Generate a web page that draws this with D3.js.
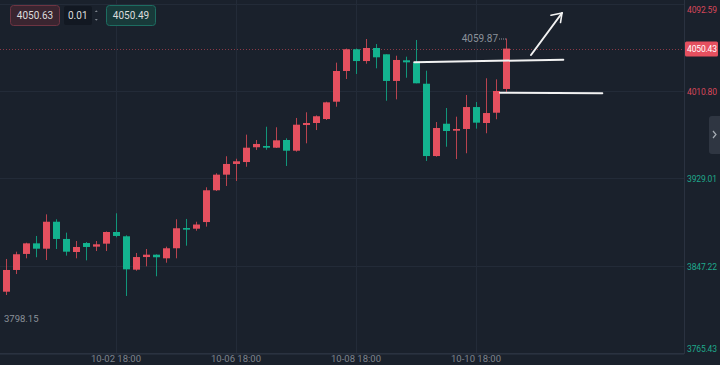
<!DOCTYPE html>
<html><head><meta charset="utf-8">
<script src="https://cdn.jsdelivr.net/npm/d3@7/dist/d3.min.js"></script>
<style>html,body{margin:0;padding:0;background:#1a212c;}svg{display:block;font-family:Roboto,"Noto Sans",sans-serif;}</style>
</head><body><svg id="c" width="720" height="365"></svg>
<script>
const categories = ["09-30 22:00","10-01 02:00","10-01 06:00","10-01 10:00","10-01 14:00","10-01 18:00","10-01 22:00",
"10-02 02:00","10-02 06:00","10-02 10:00","10-02 14:00","10-02 18:00","10-02 22:00",
"10-03 02:00","10-03 06:00","10-03 10:00","10-03 14:00","10-03 18:00","10-03 22:00",
"10-06 02:00","10-06 06:00","10-06 10:00","10-06 14:00","10-06 18:00","10-06 22:00",
"10-07 02:00","10-07 06:00","10-07 10:00","10-07 14:00","10-07 18:00","10-07 22:00",
"10-08 02:00","10-08 06:00","10-08 10:00","10-08 14:00","10-08 18:00","10-08 22:00",
"10-09 02:00","10-09 06:00","10-09 10:00","10-09 14:00","10-09 18:00","10-09 22:00",
"10-10 02:00","10-10 06:00","10-10 10:00","10-10 14:00","10-10 18:00","10-10 22:00",
"10-13 02:00","10-13 06:00"];
const opens = [3823.2,3843.5,3858.5,3868.4,3863.4,3888.6,3872.5,3860.3,3868.7,3865.3,3868.1,3879.0,3875.0,3843.8,3855.6,3857.8,3854.4,3863.8,3882.7,3882.1,3888.3,3918.0,3932.6,3942.6,3944.4,3958.2,3959.4,3957.8,3965.0,3955.0,3979.0,3980.9,3984.6,4000.8,4029.5,4049.8,4038.8,4051.0,4045.1,4020.2,4039.5,4037.6,4017.6,3950.0,3980.2,3973.7,3975.3,3995.8,3980.9,3990.5,4012.7];
const closes = [3843.5,3858.2,3868.4,3863.4,3888.6,3872.5,3860.6,3865.0,3865.0,3867.5,3879.0,3875.3,3844.1,3855.6,3857.8,3855.4,3863.8,3882.5,3881.2,3886.0,3918.0,3932.6,3942.6,3945.1,3957.8,3961.3,3957.8,3964.7,3955.0,3979.3,3980.9,3987.2,4000.2,4029.5,4049.8,4038.8,4051.0,4042.3,4020.2,4039.8,4037.6,4018.0,3950.0,3976.2,3973.4,3975.3,3995.8,3981.2,3990.2,4010.8,4050.43];
const highs = [3853.8,3860.6,3869.0,3875.3,3895.5,3890.9,3878.4,3870.6,3869.6,3870.6,3879.5,3896.5,3875.9,3859.4,3863.1,3858.1,3865.3,3890.9,3891.2,3888.6,3920.8,3933.9,3949.8,3947.5,3970.0,3965.0,3977.4,3976.9,3966.6,3985.6,3990.9,3988.0,4000.8,4037.3,4050.5,4050.5,4059.4,4054.7,4045.1,4043.8,4042.9,4058.5,4029.8,3981.8,3994.9,3986.8,4007.1,4000.5,4022.7,4021.7,4059.87];
const lows = [3820.1,3839.7,3854.4,3855.4,3852.8,3863.1,3856.9,3854.4,3852.5,3861.2,3861.2,3874.0,3819.2,3842.8,3846.9,3837.6,3850.3,3854.4,3866.2,3880.2,3884.0,3917.3,3922.0,3926.7,3940.0,3955.7,3955.9,3957.5,3940.7,3954.1,3961.9,3974.3,3983.7,3996.1,4022.0,4026.7,4036.3,4032.0,4001.7,4003.0,4023.2,4018.0,3945.4,3949.4,3958.7,3947.2,3952.6,3975.6,3971.3,3984.4,4009.9];
const priceTicks = [3765.43,3847.22,3929.01,4010.80,4092.59];
const timeTicks = ["10-02 18:00","10-06 18:00","10-08 18:00","10-10 18:00"];
const lastPrice = 4050.43, highLabel = 4059.87, lowLabel = 3798.15;
const bidAsk = ["4050.63","0.01","4050.49"];

const W=720,H=365, plotR=684, plotB=353;
const RED="#e5505f", GREEN="#13b38f";
const svg=d3.select("#c");
svg.append("rect").attr("width",W).attr("height",H).attr("fill","#1a212c");

const x=d3.scaleLinear().domain([0,categories.length-1]).range([6,506]);
const y=d3.scaleLinear().domain([3765.43,4092.59]).range([353.5,3.5]);

// grid
const g=svg.append("g");
g.selectAll("line.h").data(priceTicks).join("line")
 .attr("x1",0).attr("x2",plotR).attr("y1",d=>Math.round(y(d))+0.5).attr("y2",d=>Math.round(y(d))+0.5)
 .attr("stroke","#232b38").attr("stroke-width",1);
g.selectAll("line.v").data(timeTicks).join("line")
 .attr("x1",d=>Math.round(x(categories.indexOf(d)))+0.5).attr("x2",d=>Math.round(x(categories.indexOf(d)))+0.5)
 .attr("y1",0).attr("y2",plotB).attr("stroke","#232b38");
// axes lines
svg.append("line").attr("x1",plotR+0.5).attr("x2",plotR+0.5).attr("y1",0).attr("y2",plotB+1).attr("stroke","#2a3240");
svg.append("line").attr("x1",0).attr("x2",plotR).attr("y1",plotB+0.5).attr("y2",plotB+0.5).attr("stroke","#2a3240");

// last price dotted line
svg.append("line").attr("x1",0).attr("x2",plotR).attr("y1",Math.round(y(lastPrice))+0.5).attr("y2",Math.round(y(lastPrice))+0.5)
 .attr("stroke",RED).attr("stroke-opacity",0.55).attr("stroke-dasharray","1,2");

// candles
const data=categories.map((c,i)=>({c,i,o:opens[i],h:highs[i],l:lows[i],cl:closes[i]}));
const cg=svg.append("g");
cg.selectAll("line.w").data(data).join("line")
 .attr("x1",d=>Math.round(x(d.i))+0.5).attr("x2",d=>Math.round(x(d.i))+0.5)
 .attr("y1",d=>y(d.h)).attr("y2",d=>y(d.l))
 .attr("stroke",d=>d.cl>=d.o?"#b8434f":"#11957a").attr("stroke-width",1);
cg.selectAll("rect").data(data).join("rect")
 .attr("x",d=>Math.round(x(d.i))-3).attr("width",7)
 .attr("y",d=>y(Math.max(d.o,d.cl)))
 .attr("height",d=>Math.max(1.5,Math.abs(y(d.o)-y(d.cl))))
 .attr("fill",d=>d.cl>=d.o?RED:GREEN);

// high label
const lastI=categories.length-1;
svg.append("text").attr("x",x(lastI)-8).attr("y",y(highLabel)+3.5).attr("text-anchor","end")
 .attr("font-size",10).attr("fill","#8b919a").text(highLabel.toFixed(2));
svg.append("line").attr("x1",x(lastI)-7).attr("x2",x(lastI)).attr("y1",y(highLabel)+0.5).attr("y2",y(highLabel)+0.5)
 .attr("stroke","#8b919a").attr("stroke-dasharray","1,1");
// low label
svg.append("text").attr("x",4).attr("y",y(lowLabel)+4).attr("font-size",9.5).attr("fill","#8b919a").text(lowLabel.toFixed(2));

// drawings
const ann=svg.append("g").attr("stroke","#f2f2f2").attr("stroke-width",2).attr("fill","none").attr("stroke-linecap","round");
const seg=(i1,p1,i2,p2)=>ann.append("line").attr("x1",x(i1)).attr("y1",y(p1)).attr("x2",x(i2)).attr("y2",y(p2));
seg(40.83,4037.6,55.73,4040.1);
seg(49.4,4009.2,59.63,4008.6);
seg(52.5,4044.45,55.6,4083.7);
ann.append("polyline").attr("stroke-width",1.6).attr("points",[[x(54.5),y(4081.6)],[x(55.6),y(4083.7)],[x(55.45),y(4074.8)]].map(p=>p.join(",")).join(" "));

// right axis labels
const rl=svg.append("g").attr("font-size",8.5).attr("letter-spacing","-0.15px");
rl.selectAll("text").data(priceTicks).join("text")
 .attr("x",687).attr("y",(d,i)=>{const yy=y(d)+3.5; return Math.min(Math.max(yy,12.5),351.5);})
 .attr("fill",d=>d>=4000?"#d8475a":"#1fa88b").text(d=>d.toFixed(2));
svg.append("rect").attr("x",685).attr("y",Math.round(y(lastPrice))-7.5).attr("width",33).attr("height",15).attr("rx",1.5).attr("fill",RED);
svg.append("text").attr("x",687).attr("y",y(lastPrice)+3.5).attr("font-size",8.5).attr("letter-spacing","-0.15px")
 .attr("fill","#ffffff").text(lastPrice.toFixed(2));

// bottom time labels
svg.selectAll("text.t").data(timeTicks).join("text").attr("class","t")
 .attr("x",d=>x(categories.indexOf(d))).attr("y",362).attr("text-anchor","middle")
 .attr("font-size",9.5).attr("fill","#7e848d").text(d=>d);

// side tab
svg.append("path").attr("d","M720,116 L712,116 Q709,116 709,119 L709,151 Q709,154 712,154 L720,154 Z").attr("fill","#2f3642");
svg.append("path").attr("d","M713,131 L716,134.5 L713,138").attr("stroke","#a7adb5").attr("stroke-width",1.2).attr("fill","none");

// top-left widgets
const tw=svg.append("g").attr("font-size",10);
tw.append("rect").attr("x",10.5).attr("y",5.5).attr("width",49).attr("height",20).attr("rx",3).attr("fill","#3a2530").attr("stroke","#6e3442");
tw.append("text").attr("x",35).attr("y",19).attr("text-anchor","middle").attr("fill","#dcdcdc").text(bidAsk[0]);
tw.append("rect").attr("x",64).attr("y",6).attr("width",28).attr("height",19).attr("rx",2).attr("fill","#121822");
tw.append("text").attr("x",68).attr("y",19).attr("fill","#dcdcdc").text(bidAsk[1]);
tw.append("path").attr("d","M94.8,12 L96.3,10.3 L97.8,12 Z M94.8,19 L96.3,20.7 L97.8,19 Z").attr("fill","#7b818a");
tw.append("rect").attr("x",106.5).attr("y",5.5).attr("width",49).attr("height",20).attr("rx",3).attr("fill","#183a3a").attr("stroke","#1d6d61");
tw.append("text").attr("x",131).attr("y",19).attr("text-anchor","middle").attr("fill","#dcdcdc").text(bidAsk[2]);
</script></body></html>
